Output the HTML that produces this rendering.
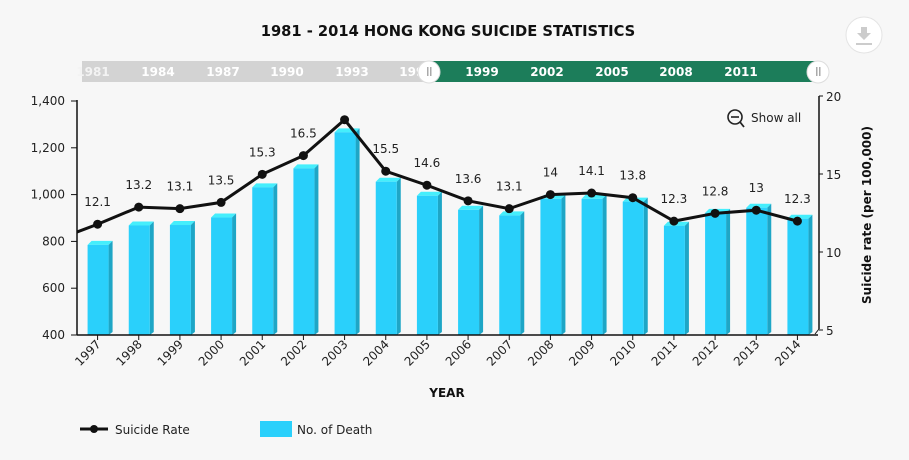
<!DOCTYPE html>
<html><head><meta charset="utf-8"><style>
body{margin:0;background:#f7f7f7;}
svg{display:block;font-family:"DejaVu Sans","Liberation Sans",sans-serif;}
</style></head><body>
<svg id="c" width="909" height="460">
<rect width="909" height="460" fill="#f7f7f7"/>
<text x="448" y="36" text-anchor="middle" font-size="14.7" font-weight="bold" fill="#111">1981 - 2014 HONG KONG SUICIDE STATISTICS</text>
<g>
<circle cx="864" cy="35" r="18" fill="#fff" stroke="#e4e4e4"/>
<path d="M861 27h6v6h4l-7 7-7-7h4z" fill="#ccc"/><rect x="856" y="43" width="16" height="2" fill="#ccc"/>
</g>
<g>
<rect x="82" y="61" width="348" height="21" fill="#d3d3d3"/>
<rect x="430" y="61" width="390" height="21" fill="#1c7d5a"/>
<g font-size="12" font-weight="bold" fill="#fff" text-anchor="middle">
<text x="93" y="76" fill="#f3f3f3">1981</text><text x="158" y="76">1984</text><text x="223" y="76">1987</text><text x="287" y="76">1990</text><text x="352" y="76">1993</text><text x="416" y="76">1996</text>
<text x="482" y="76">1999</text><text x="547" y="76">2002</text><text x="612" y="76">2005</text><text x="676" y="76">2008</text><text x="741" y="76">2011</text></g>
<circle cx="429" cy="72" r="11" fill="#fff" stroke="#ddd"/>
<rect x="427" y="67" width="1.5" height="9" fill="#aaa"/><rect x="430" y="67" width="1.5" height="9" fill="#aaa"/>
<circle cx="818" cy="72" r="11" fill="#fff" stroke="#ddd"/>
<rect x="816" y="67" width="1.5" height="9" fill="#aaa"/><rect x="819" y="67" width="1.5" height="9" fill="#aaa"/>
</g>
<g>
<circle cx="735" cy="117" r="7" fill="none" stroke="#222" stroke-width="1.6"/><line x1="731" y1="117" x2="739" y2="117" stroke="#222" stroke-width="1.6"/><line x1="740" y1="122" x2="744" y2="127" stroke="#222" stroke-width="1.8"/>
<text x="751" y="122" font-size="12" fill="#222">Show all</text></g>
<g id="bars"></g><g id="axes"></g><g id="line"></g>
<text x="447" y="397" text-anchor="middle" font-size="12" font-weight="bold" fill="#111">YEAR</text>
<text transform="translate(871,215) rotate(-90)" text-anchor="middle" font-size="12" font-weight="bold" fill="#111">Suicide rate (per 100,000)</text>
<g>
<line x1="80" y1="429" x2="108" y2="429" stroke="#111" stroke-width="3"/><circle cx="94" cy="429" r="4" fill="#111"/>
<text x="115" y="434" font-size="12" fill="#222">Suicide Rate</text></g>
<g>
<rect x="260" y="421" width="32" height="16" fill="#2ad0fb"/>
<text x="297" y="434" font-size="12" fill="#222">No. of Death</text></g>
</svg>
<script>
const years=["1997","1998","1999","2000","2001","2002","2003","2004","2005","2006","2007","2008","2009","2010","2011","2012","2013","2014"];
const deaths=[785,868,870,902,1031,1112,1266,1055,995,935,911,982,982,970,867,922,944,897];
const rates=[12.1,13.2,13.1,13.5,15.3,16.5,18.8,15.5,14.6,13.6,13.1,14,14.1,13.8,12.3,12.8,13,12.3];
const rateLabels=["12.1","13.2","13.1","13.5","15.3","16.5","","15.5","14.6","13.6","13.1","14","14.1","13.8","12.3","12.8","13","12.3"];
const prevRate=11.1;
const leftTicks=[400,600,800,1000,1200,1400];
const rightTicks=[5,10,15,20];
const NS="http://www.w3.org/2000/svg";
const X0=77,X1=818,YT=101,YB=335;
const bw=(X1-X0)/years.length;
const xS=i=>X0+bw*(i+0.5);
const yL=v=>YB-(v-400)/1000*(YB-YT);
const yR=v=>YB-(v-5)/15*(YB-YT);
function mk(t,a,p){const e=document.createElementNS(NS,t);for(const k in a)e.setAttribute(k,a[k]);p.appendChild(e);return e;}
const bars=document.getElementById('bars'),axes=document.getElementById('axes'),line=document.getElementById('line');
years.forEach((y,i)=>{
 const cx=xS(i),top=yL(deaths[i]);
 const g=mk('g',{},bars);
 
 
 mk('polygon',{points:`${cx-10},${top} ${cx+11},${top} ${cx+15},${top-4} ${cx-6},${top-4}`,fill:'#45eefc'},g);
 mk('polygon',{points:`${cx+11},${top} ${cx+15},${top-4} ${cx+15},${YB-3} ${cx+11},${YB}`,fill:'#1ea6c6'},g);
 mk('rect',{x:cx-10,y:top,width:21,height:YB-top,fill:'#2ad0fb'},g);
 mk('line',{x1:cx,y1:YB,x2:cx,y2:YB+5,stroke:'#111'},axes);
 const t=mk('text',{transform:`translate(${cx+4},${YB+10}) rotate(-45)`,'text-anchor':'end','font-size':12,fill:'#222'},axes);
 t.textContent=y;
 
 
});
mk('line',{x1:X0,y1:YT-1,x2:X0,y2:YB,stroke:'#111','stroke-width':1.5},axes);
mk('line',{x1:X0,y1:YB,x2:X1,y2:YB,stroke:'#111','stroke-width':1.5},axes);
mk('line',{x1:X1+1,y1:96,x2:X1+1,y2:329,stroke:'#111','stroke-width':1.5},axes);
mk('line',{x1:X1+1,y1:329,x2:X1-3,y2:334,stroke:'#111','stroke-width':1},axes);
leftTicks.forEach(v=>{
 mk('line',{x1:X0-6,y1:yL(v),x2:X0,y2:yL(v),stroke:'#111'},axes);
 const t=mk('text',{x:X0-12,y:yL(v)+4,'text-anchor':'end','font-size':12,fill:'#222'},axes);
 t.textContent=v.toLocaleString('en-US');
 
 
});
rightTicks.forEach(v=>{
 const yy=yR(v)-5;
 mk('line',{x1:X1+1,y1:yy,x2:X1+5,y2:yy,stroke:'#111'},axes);
 const t=mk('text',{x:X1+8,y:yy+5,'font-size':12,fill:'#222'},axes);
 t.textContent=v;
 
 
});
const cp=mk('clipPath',{id:'cl'},line);mk('rect',{x:X0,y:0,width:X1-X0,height:460},cp);
let pts=[`${xS(-1)},${yR(prevRate)}`].concat(rates.map((r,i)=>`${xS(i)},${yR(r)}`));
const pl=mk('polyline',{points:pts.join(' '),fill:'none',stroke:'#111','stroke-width':3,'clip-path':'url(#cl)'},line);


rates.forEach((r,i)=>{
 const c=mk('circle',{cx:xS(i),cy:yR(r),r:4.5,fill:'#111'},line);
 
 
 if(rateLabels[i]){
 const t=mk('text',{x:xS(i),y:yR(r)-18,'text-anchor':'middle','font-size':12,fill:'#222'},line);
 t.textContent=rateLabels[i];
 
 }
});
</script>
</body></html>
